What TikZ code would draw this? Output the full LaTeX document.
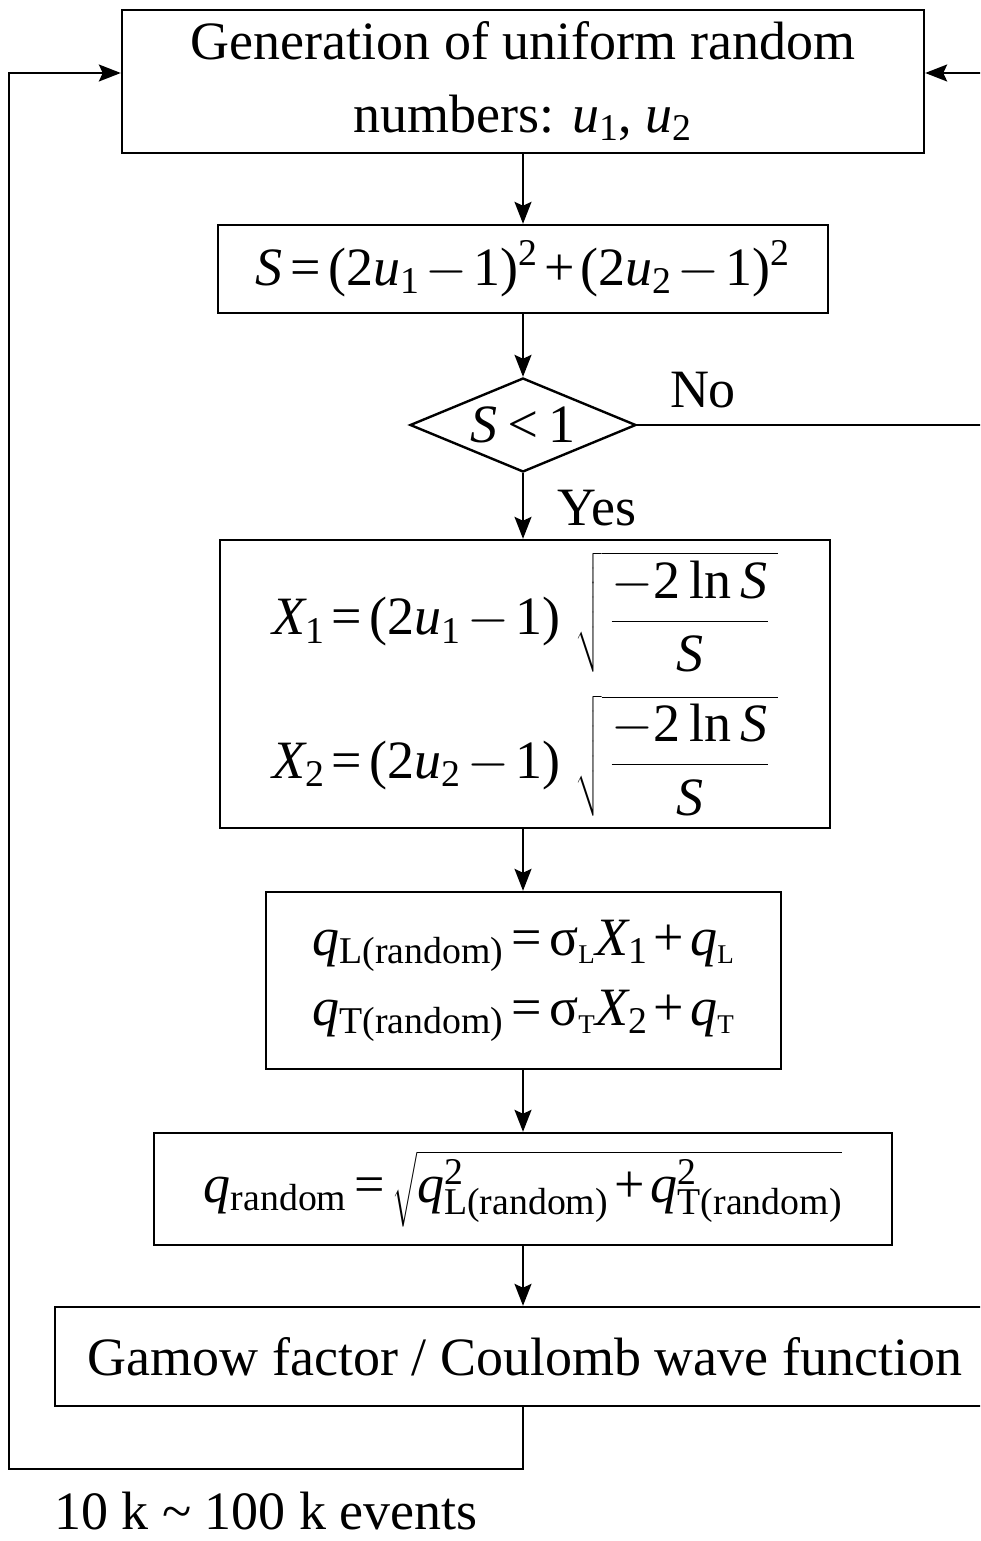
\RequirePackage{fix-cm}
\documentclass[tikz,border=0pt]{standalone}
\usepackage{exscale}
\usepackage[no-math]{fontspec}
\setmainfont{Liberation Serif}
\DeclareSymbolFont{letters}{TU}{\rmdefault}{m}{it}
\DeclareSymbolFont{operators}{TU}{\rmdefault}{m}{n}
\DeclareMathAlphabet{\mathrm}{TU}{\rmdefault}{m}{n}
\newcommand\upsig{\mathord{\mbox{σ}}}
\medmuskip=2mu plus 1mu minus 1mu
\thickmuskip=2.5mu plus 1mu
\usetikzlibrary{shapes.geometric,arrows.meta}
\tikzset{
  box/.style={draw, line width=2.4pt, rectangle, inner sep=0pt, align=center, font=\fontsize{54}{70}\selectfont},
  dec/.style={draw, line width=2.4pt, diamond, aspect=2.4, inner sep=0pt, minimum width=226pt, minimum height=94pt, font=\fontsize{54}{66}\selectfont},
  lbl/.style={inner sep=0pt, font=\fontsize{54}{66}\selectfont},
  conn/.style={line width=2pt},
  arr/.style={conn, -{Stealth[length=22pt, width=17pt, inset=4pt]}},
}
\begin{document}
\begin{tikzpicture}[x=1pt, y=-1pt]
\useasboundingbox (0,0) rectangle (980,1541);
\clip (0,0) rectangle (980,1541);
\node[box, minimum width=802pt, minimum height=143pt, font=\fontsize{54}{73}\selectfont] (top) at (523,81.5) {Generation of uniform random\\numbers: $u_1$, $u_2$};
\node[box, minimum width=610pt, minimum height=88pt] (s) at (523,269) {$S = (2u_1 - 1)^2 + (2u_2 - 1)^2$};
\node[dec] (dia) at (523,425) {$S < 1$};
\node[box, minimum width=610pt, minimum height=288pt] (x) at (525,684) {$\displaystyle X_1 = (2u_1 - 1)\;\;\sqrt{\,\frac{-2\ln S}{S}\,}$\\[22pt]$\displaystyle X_2 = (2u_2 - 1)\;\;\sqrt{\,\frac{-2\ln S}{S}\,}$};
\node[box, minimum width=515pt, minimum height=177pt] (q) at (523.5,980.5) {$q_{\mathrm{L(random)}} = \upsig_{\scriptscriptstyle\mathrm{L}} X_1 + q_{\scriptscriptstyle\mathrm{L}}$\\$q_{\mathrm{T(random)}} = \upsig_{\scriptscriptstyle\mathrm{T}} X_2 + q_{\scriptscriptstyle\mathrm{T}}$};
\node[box, minimum width=738pt, minimum height=112pt] (qr) at (523,1189) {$q_{\mathrm{random}} = \sqrt{q^2_{\mathrm{L(random)}} + q^2_{\mathrm{T(random)}}}$};
\node[box, minimum width=940pt, minimum height=99pt] (g) at (525,1356.5) {Gamow factor / Coulomb wave function};
\node[lbl] (no) at (703,390) {No};
\node[lbl] (yes) at (597,508) {Yes};
\node[lbl] (ev) at (266,1511) {10 k \textasciitilde{} 100 k events};
\coordinate (bl) at (9,1469);
\coordinate (br) at (1000,425);
\draw[arr] (top.south) -- (s.north);
\draw[arr] (s.south) -- (dia.north);
\draw[arr] (dia.south) -- (x.north -| dia.south);
\draw[arr] (x.south -| dia.south) -- (q.north -| dia.south);
\draw[arr] (q.south -| dia.south) -- (qr.north -| dia.south);
\draw[arr] (qr.south -| dia.south) -- (g.north -| dia.south);
\draw[arr] (g.south -| top.south) |- (bl) |- ([yshift=8.5pt]top.west);
\draw[arr] (dia.east) -- (br) |- ([yshift=8.5pt]top.east);
\end{tikzpicture}
\end{document}
